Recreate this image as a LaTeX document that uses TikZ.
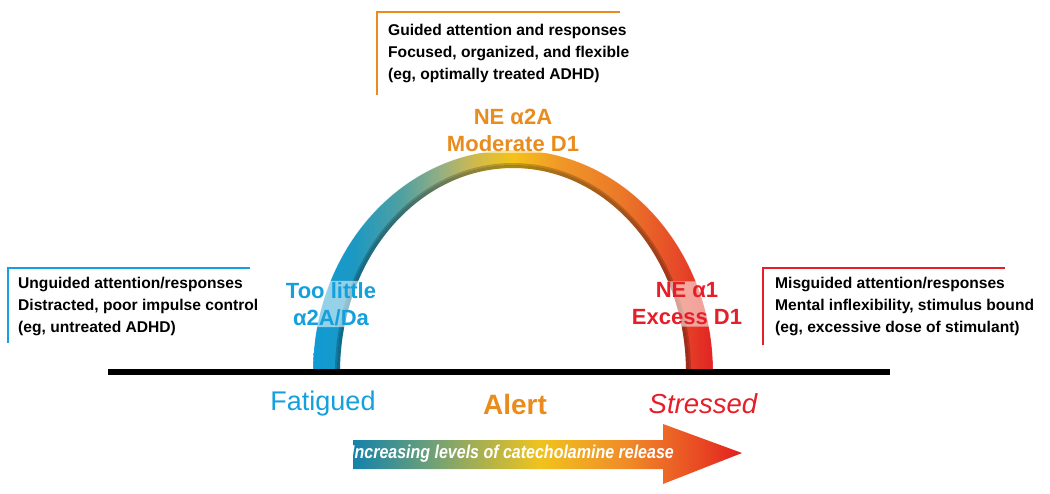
\documentclass[tikz,border=0pt]{standalone}
\usepackage{fontspec}
\setmainfont{Liberation Sans}
\newfontfamily\narrowsans[FakeStretch=0.86]{Liberation Sans}
\usepackage{xcolor}
\usepackage{tikz}
\usetikzlibrary{positioning,calc}

\definecolor{lowblue}{RGB}{20,160,220}
\definecolor{midorange}{RGB}{232,140,30}
\definecolor{highred}{RGB}{230,30,40}

\pgfdeclarehorizontalshading{archue}{100bp}{
  color(0bp)=(rgb,255:red,15;green,155;blue,212); color(25bp)=(rgb,255:red,15;green,155;blue,212);
  color(30bp)=(rgb,255:red,28;green,152;blue,195);
  color(36bp)=(rgb,255:red,80;green,160;blue,160);
  color(41bp)=(rgb,255:red,150;green,175;blue,130);
  color(45bp)=(rgb,255:red,205;green,185;blue,80);
  color(50bp)=(rgb,255:red,245;green,195;blue,25);
  color(56bp)=(rgb,255:red,240;green,150;blue,40);
  color(63.5bp)=(rgb,255:red,235;green,120;blue,40);
  color(71bp)=(rgb,255:red,230;green,70;blue,40);
  color(75bp)=(rgb,255:red,225;green,35;blue,35); color(100bp)=(rgb,255:red,225;green,35;blue,35)}

\pgfdeclarehorizontalshading{arrowhue}{100bp}{
  color(0bp)=(rgb,255:red,20;green,130;blue,170); color(25bp)=(rgb,255:red,20;green,130;blue,170);
  color(35bp)=(rgb,255:red,110;green,160;blue,120);
  color(49bp)=(rgb,255:red,240;green,195;blue,30);
  color(60bp)=(rgb,255:red,240;green,140;blue,40);
  color(70bp)=(rgb,255:red,232;green,70;blue,35);
  color(75bp)=(rgb,255:red,225;green,30;blue,30); color(100bp)=(rgb,255:red,225;green,30;blue,30)}

\begin{document}
\begin{tikzpicture}[x=1pt,y=-1pt,
   boxtxt/.style={anchor=north west,inner sep=0pt,align=left,
     font=\bfseries\fontsize{15.6}{22}\selectfont},
   arclbl/.style={inner sep=1.5pt,align=center,rounded corners=5pt,fill=white,fill opacity=0.55,
     text opacity=1,font=\bfseries\fontsize{22}{27}\selectfont},
   statelbl/.style={inner sep=0pt,font=\fontsize{27}{30}\selectfont},
   bracket/.style={line width=2.5pt}]
  \useasboundingbox (0,0) rectangle (1050,493);
  % rainbow arch
  \shade[shading=archue] (313,372) arc[start angle=180,end angle=360,x radius=200,y radius=222]
     -- (686,372) arc[start angle=0,end angle=-180,x radius=173,y radius=204] -- cycle;
  \draw[black,opacity=0.3,line width=3pt] (687.5,372) arc[start angle=0,end angle=-180,x radius=174.5,y radius=205.5];
  \draw[black,opacity=0.2,line width=2pt] (690,372) arc[start angle=0,end angle=-180,x radius=177,y radius=208];
  \draw[white,opacity=0.3,line width=1.5pt] (312.5,372) arc[start angle=180,end angle=360,x radius=200.5,y radius=222.5];
  \draw[line width=6pt] (108,372) -- (890,372);
  \node[arclbl,text=midorange] (top) at (513,130) {NE α2A\\Moderate D1};
  \node[arclbl,text=lowblue] (lowlbl) at (331,304) {Too little\\α2A/Da};
  \node[arclbl,text=highred] (highlbl) at (687,304) {NE α1\\Excess D1};
  \node[statelbl,text=lowblue] (fatigued) at (323,404) {Fatigued};
  \node[statelbl,text=midorange,font=\bfseries\fontsize{28}{30}\selectfont] (alert) at (515,404) {Alert};
  \node[statelbl,text=highred,font=\itshape\fontsize{27.5}{30}\selectfont] (stressed) at (703,404) {Stressed};
  % bracketed descriptions
  \draw[bracket,lowblue] (8,343) -- (8,268) -- (250,268);
  \node[boxtxt] (lowbox) at (18,277) {Unguided attention/responses\\Distracted, poor impulse control\\(eg, untreated ADHD)};
  \draw[bracket,midorange] (377,95) -- (377,12) -- (620,12);
  \node[boxtxt] (midbox) at (388,24) {Guided attention and responses\\Focused, organized, and flexible\\(eg, optimally treated ADHD)};
  \draw[bracket,highred] (763,345) -- (763,268) -- (1005,268);
  \node[boxtxt] (highbox) at (775,277) {Misguided attention/responses\\Mental inflexibility, stimulus bound\\(eg, excessive dose of stimulant)};
  % release arrow
  \shade[shading=arrowhue] (353,440) -- (663,440) -- (663,424) -- (742,453) -- (663,484)
     -- (663,469) -- (353,469) -- cycle;
  \node[inner sep=0pt,text=white,font=\narrowsans\bfseries\itshape\fontsize{18.6}{20}\selectfont] (release) at (512,454)
     {Increasing levels of catecholamine release};
\end{tikzpicture}
\end{document}
